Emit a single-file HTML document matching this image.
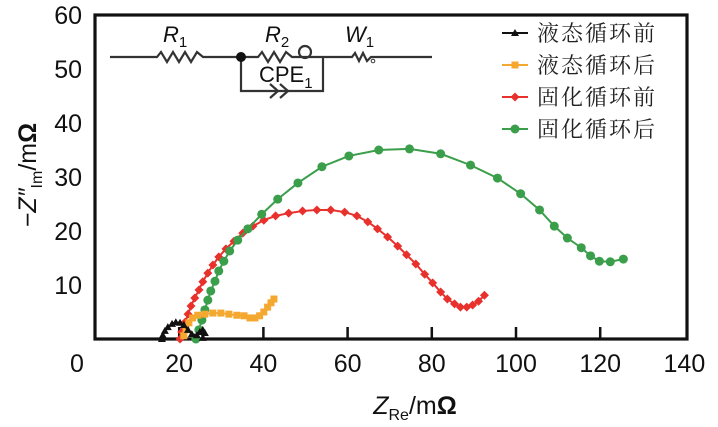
<!DOCTYPE html>
<html><head><meta charset="utf-8"><style>
html,body{margin:0;padding:0;background:#fff;}
svg{display:block;font-family:"Liberation Sans",Arial,sans-serif;}
</style></head><body>
<svg id="chart" width="718" height="427" viewBox="0 0 718 427">
<g id="plot"></g>
</svg>
<script>
const xTicks=[0,20,40,60,80,100,120,140];
const yTicks=[10,20,30,40,50,60];
const seriesNames=["液态循环前","液态循环后","固化循环前","固化循环后"];
const blackX=[15.9,16.1,16.6,17.3,18.3,19.2,20.2,21.1,22.1,23.0,24.2,24.9,25.6,26.1,25.6];
const blackY=[0,0.7,1.5,2.2,2.8,3.1,3.0,2.6,1.7,0.9,0.7,1.3,1.7,1.1,0.2];
const orangeX=[21.1,21.6,22.3,23.2,24.4,26.1,28.0,29.9,31.8,33.7,35.4,36.8,38.0,39.1,40.1,41.0,41.8,42.5];
const orangeY=[0.6,1.7,3.0,3.9,4.4,4.6,4.8,4.8,4.6,4.4,4.3,3.9,3.9,4.3,5.0,5.9,6.7,7.4];
const redX=[20.2,20.6,21.4,22.1,22.8,23.7,24.7,25.6,26.8,28.0,29.4,31.1,33.0,35.1,37.5,40.1,42.9,46.0,49.3,52.7,56.0,59.3,62.2,64.8,67.1,69.5,71.9,74.0,76.2,78.3,80.2,82.1,83.7,85.4,86.8,88.3,89.7,91.1,92.5];
const redY=[0,1.3,3.1,4.6,6.1,7.6,9.1,10.6,12.2,13.7,15.2,16.7,18.1,19.6,20.9,22.0,22.8,23.3,23.7,23.9,23.9,23.5,22.8,21.7,20.4,18.9,17.2,15.6,13.9,12.0,10.4,8.7,7.4,6.5,5.9,5.9,6.3,7.0,8.1];
const greenX=[23.96,24.67,25.39,26.1,26.8,27.5,28.5,29.4,30.6,32.0,33.9,36.3,39.6,43.4,48.2,53.9,60.3,67.4,74.7,82.1,89.2,95.6,101.1,105.6,109.1,112.2,115.5,117.7,119.8,122.4,125.5];
const greenY=[0,1.7,3.5,5.4,7.2,8.9,10.7,12.6,14.4,16.3,18.3,20.4,23.1,25.9,28.9,31.9,33.9,35.0,35.2,34.3,32.2,29.8,26.9,23.9,20.9,18.7,16.9,15.4,14.4,14.3,14.8];

const NS="http://www.w3.org/2000/svg";
const g=document.getElementById('plot');
const X0=95,X1=687,Y0=339,Y1=15;
function sx(v){return X0+v*(84.2/20);}
function sy(v){return Y0-v*5.4;}
function mk(tag,attrs,parent){const e=document.createElementNS(NS,tag);for(const k in attrs)e.setAttribute(k,attrs[k]);(parent||g).appendChild(e);return e;}

const frame=mk('rect',{x:X0,y:Y1,width:X1-X0,height:Y0-Y1,fill:'none',stroke:'#111','stroke-width':3.2});



xTicks.forEach(v=>{
  if(v>0&&v<140){const t=mk('line',{x1:sx(v),x2:sx(v),y1:Y0,y2:Y0-12,stroke:'#111','stroke-width':2.5});
  
  }
  const l=mk('text',{x:sx(v)-(v===0?18:0),y:372,'font-size':25,'text-anchor':'middle',fill:'#111'});
  l.textContent=v;
  
  
});
yTicks.forEach(v=>{
  const l=mk('text',{x:82,y:sy(v)+9,'font-size':25,'text-anchor':'end',fill:'#111'});
  l.textContent=v;
  
  
});

const xt=mk('text',{x:415,y:414,'font-size':25,'text-anchor':'middle',fill:'#111'});
xt.innerHTML='<tspan font-style="italic">Z</tspan><tspan font-size="16" dy="6">Re</tspan><tspan dy="-6">/m</tspan><tspan font-weight="bold">Ω</tspan>';


const yt=mk('text',{x:0,y:0,'font-size':25,'text-anchor':'middle',fill:'#111',transform:'translate(36,175) rotate(-90)'});
yt.innerHTML='<tspan>−</tspan><tspan font-style="italic">Z″</tspan><tspan font-size="16" dy="6">Im</tspan><tspan dy="-6">/m</tspan><tspan font-weight="bold">Ω</tspan>';



function marker(type,x,y,c,parent){
  if(type==='tri')return mk('polygon',{points:`${x},${y-4} ${x-4},${y+3} ${x+4},${y+3}`,fill:c},parent);
  if(type==='sq')return mk('rect',{x:x-3.5,y:y-3.5,width:7,height:7,fill:c},parent);
  if(type==='dia')return mk('polygon',{points:`${x},${y-4.5} ${x+4.5},${y} ${x},${y+4.5} ${x-4.5},${y}`,fill:c},parent);
  return mk('circle',{cx:x,cy:y,r:4.5,fill:c},parent);
}
function series(xs,ys,c,type,name){
  const sg=mk('g',{});
  
  
  const p=mk('polyline',{points:xs.map((v,i)=>sx(v)+','+sy(ys[i])).join(' '),fill:'none',stroke:c,'stroke-width':2},sg);
  
  
  xs.forEach((v,i)=>{const m=marker(type,sx(v),sy(ys[i]),c,sg);
    
    });
}
series(redX,redY,'#e8312c','dia','series-solid-before');
series(greenX,greenY,'#3a9e4a','circ','series-solid-after');
series(orangeX,orangeY,'#f5a830','sq','series-liquid-after');
series(blackX,blackY,'#111','tri','series-liquid-before');

const cols=['#111','#f5a830','#e8312c','#3a9e4a'];const types=['tri','sq','dia','circ'];
const lg=mk('g',{});


seriesNames.forEach((n,i)=>{
  const y=33+i*32;
  const e=mk('g',{},lg);
  
  
  mk('line',{x1:502,x2:528,y1:y,y2:y,stroke:cols[i],'stroke-width':2},e);
  marker(types[i],515,y,cols[i],e);
  const t=mk('text',{x:537,y:y+8,'font-size':22,'letter-spacing':2,fill:'#222','font-family':'"Liberation Serif","Noto Serif CJK SC",serif'},e);
  t.textContent=n;
});

const cg=mk('g',{stroke:'#333','stroke-width':2.2,fill:'none'});


mk('polyline',{points:'110,57 157,57 161,52 167,62 173,52 179,62 185,52 191,62 197,52 203,57 258,57 262,52 268,62 274,52 280,62 286,52 292,57 352,57 355,53 359,61 363,53 367,61 371,57 432,57'},cg);
mk('circle',{cx:305,cy:52,r:6},cg);
mk('circle',{cx:373,cy:61,r:1.8,'stroke-width':1},cg);
mk('polyline',{points:'241,57 241,91 323,91 323,57'},cg);
mk('polyline',{points:'270,84 278,91 270,98'},cg);
mk('polyline',{points:'280,84 288,91 280,98'},cg);
mk('circle',{cx:241,cy:57,r:5,fill:'#111',stroke:'none'},cg);
const lbls=[['R','1',163,42],['R','2',265,42],['W','1',345,42]];
lbls.forEach(l=>{const t=mk('text',{x:l[2],y:l[3],'font-size':22,fill:'#111'});
  t.innerHTML=`<tspan font-style="italic">${l[0]}</tspan><tspan font-size="15" dy="5">${l[1]}</tspan>`;
  
  });
const cpe=mk('text',{x:259,y:82,'font-size':22,fill:'#111'});
cpe.innerHTML='CPE<tspan font-size="15" dy="6">1</tspan>';


</script>
</body></html>
